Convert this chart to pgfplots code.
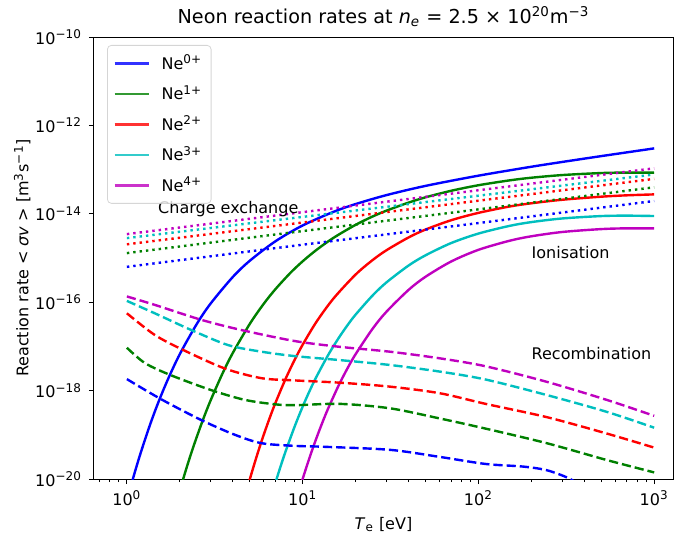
\documentclass[border=0pt]{standalone}
\usepackage{fontspec}
\setmainfont{DejaVu Sans}
\usepackage{pgfplots}
\pgfplotsset{compat=1.18}
\definecolor{mb}{rgb}{0,0,1}
\definecolor{mg}{rgb}{0,0.5,0}
\definecolor{mr}{rgb}{1,0,0}
\definecolor{mc}{rgb}{0,0.75,0.75}
\definecolor{mm}{rgb}{0.75,0,0.75}
\newcommand{\sml}{\fontsize{8}{9.6}\selectfont}
\begin{document}
\begin{tikzpicture}
\begin{axis}[
  scale only axis, width=289.5pt, height=221pt,
  xmode=log, ymode=log,
  xmin=0.65, xmax=1280, ymin=1e-20, ymax=1e-10,
  axis line style={line width=0.5pt},
  tick pos=left, tick align=outside,
  major tick length=2.5pt, minor tick length=1.5pt,
  every tick/.style={black, line width=0.5pt},
  xtick={1,10,100,1000},
  xticklabels={10\textsuperscript{0},10\textsuperscript{1},10\textsuperscript{2},10\textsuperscript{3}},
  minor xtick={0.7,0.8,0.9,2,3,4,5,6,7,8,9,20,30,40,50,60,70,80,90,200,300,400,500,600,700,800,900},
  ytick={1e-20,1e-18,1e-16,1e-14,1e-12,1e-10},
  yticklabels={10\textsuperscript{−20},10\textsuperscript{−18},10\textsuperscript{−16},10\textsuperscript{−14},10\textsuperscript{−12},10\textsuperscript{−10}},
  minor ytick={},
  tick label style={font=\sml},
  xlabel={\textit{T}\textsubscript{e} [eV]},
  ylabel={Reaction rate < \textit{σv} > [m\textsuperscript{3}s\textsuperscript{−1}]},
  xlabel style={font=\sml, at={(axis description cs:0.5,-0.104)}, anchor=center},
  ylabel style={font=\sml, at={(axis description cs:-0.124,0.5)}, anchor=center},
  legend style={at={(axis description cs:0.0225,0.982)}, anchor=north west,
    draw=black!20, rounded corners=2pt, fill=white, fill opacity=0.8, draw opacity=0.8, text opacity=1,
    font=\sml, inner xsep=3pt, inner ysep=3.5pt, row sep=4.25pt,
    cells={anchor=west}, nodes={inner sep=1.5pt, text height=7pt, text depth=1pt}},
  legend image code/.code={\path[draw=none,fill=none] (0pt,-0.5pt) rectangle (22pt,0.5pt); \draw[#1] (0pt,0pt) -- (17pt,0pt);},
  every axis plot/.append style={line width=1.2pt},
]
% Ionisation (solid)
\addplot[mb, smooth] table {
1.0 3.21e-21
1.1 1.265e-20
1.2 3.98e-20
1.35 1.63e-19
1.5 5.07e-19
1.7 1.69e-18
2.0 6.68e-18
2.5 3.23e-17
3.0 9.40e-17
4.0 3.70e-16
5.0 8.65e-16
7.0 2.39e-15
10 5.45e-15
15 1.11e-14
20 1.66e-14
30 2.65e-14
50 4.28e-14
100 7.29e-14
200 1.16e-13
300 1.49e-13
500 2.02e-13
1000 3.02e-13
};
\addlegendentry{Ne\textsuperscript{0+}}
\addplot[mg, smooth] table {
1.9 2.66e-21
2.0 5.51e-21
2.2 1.95e-20
2.4 5.66e-20
2.7 2.11e-19
3.0 6.11e-19
3.5 2.44e-18
4 7.05e-18
5 3.22e-17
6 9.16e-17
7 1.97e-16
8.5 4.57e-16
10 8.41e-16
12 1.53e-15
15 2.87e-15
20 5.62e-15
25 8.69e-15
30 1.18e-14
40 1.79e-14
50 2.36e-14
70 3.32e-14
100 4.43e-14
150 5.70e-14
200 6.55e-14
300 7.53e-14
500 8.36e-14
700 8.57e-14
1000 8.51e-14
};
\addlegendentry{Ne\textsuperscript{1+}}
\addplot[mr, smooth] table {
4.6 2.91e-21
5 9.73e-21
5.5 3.44e-20
6 9.91e-20
6.5 2.43e-19
7 5.26e-19
8 1.85e-18
9 4.95e-18
10 1.09e-17
12 3.63e-17
15 1.22e-16
20 4.21e-16
25 8.97e-16
30 1.50e-15
40 2.91e-15
50 4.40e-15
70 7.16e-15
100 1.05e-14
150 1.46e-14
200 1.73e-14
300 2.08e-14
500 2.44e-14
700 2.62e-14
1000 2.75e-14
};
\addlegendentry{Ne\textsuperscript{2+}}
\addplot[mc, smooth] table {
6.5 2.99e-21
7 8.17e-21
7.5 1.96e-20
8 4.23e-20
9 1.53e-19
10 4.33e-19
11 1.02e-18
12 2.08e-18
14 6.49e-18
16 1.53e-17
18 3.02e-17
20 5.22e-17
25 1.42e-16
30 2.81e-16
40 6.73e-16
50 1.15e-15
70 2.18e-15
100 3.57e-15
150 5.32e-15
200 6.49e-15
300 7.85e-15
500 8.89e-15
700 9.08e-15
1000 8.91e-15
};
\addlegendentry{Ne\textsuperscript{3+}}
\addplot[mm, smooth] table {
9.2 3.27e-21
10 1.00e-20
11 3.22e-20
12 8.57e-20
13 1.97e-19
14 4.02e-19
16 1.29e-18
18 3.20e-18
20 6.64e-18
25 2.51e-17
30 6.11e-17
40 1.89e-16
50 3.76e-16
70 8.34e-16
100 1.53e-15
150 2.45e-15
200 3.10e-15
300 3.88e-15
500 4.51e-15
700 4.69e-15
1000 4.68e-15
};
\addlegendentry{Ne\textsuperscript{4+}}
% Charge exchange (dotted)
\addplot[mb, dash pattern=on 1.2pt off 2pt, forget plot] table {
1 6.31e-16
10 2.00e-15
100 6.17e-15
1000 1.95e-14
};
\addplot[mg, dash pattern=on 1.2pt off 2pt, forget plot] table {
1 1.29e-15
10 4.07e-15
100 1.26e-14
1000 3.98e-14
};
\addplot[mr, dash pattern=on 1.2pt off 2pt, forget plot] table {
1 2.04e-15
10 6.35e-15
100 1.98e-14
1000 6.17e-14
};
\addplot[mc, dash pattern=on 1.2pt off 2pt, forget plot] table {
1 2.82e-15
10 8.51e-15
100 2.57e-14
1000 7.76e-14
};
\addplot[mm, dash pattern=on 1.2pt off 2pt, forget plot] table {
1 3.47e-15
10 1.09e-14
100 3.41e-14
1000 1.07e-13
};
% Recombination (dashed)
\addplot[mb, smooth, dash pattern=on 4.6pt off 2pt, forget plot] table {
1 1.82e-18
1.575 6.31e-19
2.66 2.14e-19
4.12 1.00e-19
5.84 6.46e-20
9.04 5.62e-20
13.1 5.37e-20
31.4 4.57e-20
60.4 3.16e-20
110 2.19e-20
180 1.91e-20
245 1.58e-20
325 1.05e-20
400 6.31e-21
};
\addplot[mg, smooth, dash pattern=on 4.6pt off 2pt, forget plot] table {
1 9.33e-18
1.27 4.17e-18
1.80 2.19e-18
3.03 1.02e-18
4.69 6.17e-19
6.96 4.90e-19
9.04 4.68e-19
16.3 5.01e-19
31.4 3.98e-19
60.4 2.34e-19
110 1.38e-19
245 6.46e-20
537 2.69e-20
1000 1.41e-20
};
\addplot[mr, smooth, dash pattern=on 4.6pt off 2pt, forget plot] table {
1 5.62e-17
1.44 1.82e-17
2.09 8.32e-18
3.61 3.16e-18
5.84 1.91e-18
9.04 1.70e-18
16.3 1.51e-18
31.4 1.23e-18
60.4 8.71e-19
110 5.01e-19
245 2.51e-19
537 1.07e-19
1000 5.13e-20
};
\addplot[mc, smooth, dash pattern=on 4.6pt off 2pt, forget plot] table {
1 1.07e-16
1.44 5.62e-17
2.33 2.34e-17
3.77 1.07e-17
5.84 7.59e-18
9.04 6.03e-18
16.3 4.90e-18
31.4 3.80e-18
60.4 2.69e-18
110 1.78e-18
245 7.94e-19
537 3.31e-19
1000 1.45e-19
};
\addplot[mm, smooth, dash pattern=on 4.6pt off 2pt, forget plot] table {
1 1.35e-16
1.44 8.71e-17
2.66 3.98e-17
4.50 2.34e-17
9.04 1.32e-17
16.3 9.77e-18
31.4 7.59e-18
60.4 5.37e-18
110 3.55e-18
245 1.58e-18
537 6.17e-19
1000 2.69e-19
};
\node[anchor=base west, inner sep=0pt, font=\sml] at (axis cs:1.5,1e-14) {Charge exchange};
\node[anchor=base west, inner sep=0pt, font=\sml] at (axis cs:200,1e-15) {Ionisation};
\node[anchor=base west, inner sep=0pt, font=\sml] at (axis cs:200,5e-18) {Recombination};
\end{axis}
\node[anchor=base, inner sep=0pt, font=\fontsize{9.6}{11.5}\selectfont] at ([yshift=6.5pt]current axis.north)
  {Neon reaction rates at \textit{n}\textsubscript{\textit{e}} = 2.5 × 10\textsuperscript{20}m\textsuperscript{−3}};
\pgfresetboundingbox
\path ([shift={(-47pt,-30.5pt)}]current axis.south west) rectangle ([shift={(2.5pt,18.5pt)}]current axis.north east);
\end{tikzpicture}
\end{document}
